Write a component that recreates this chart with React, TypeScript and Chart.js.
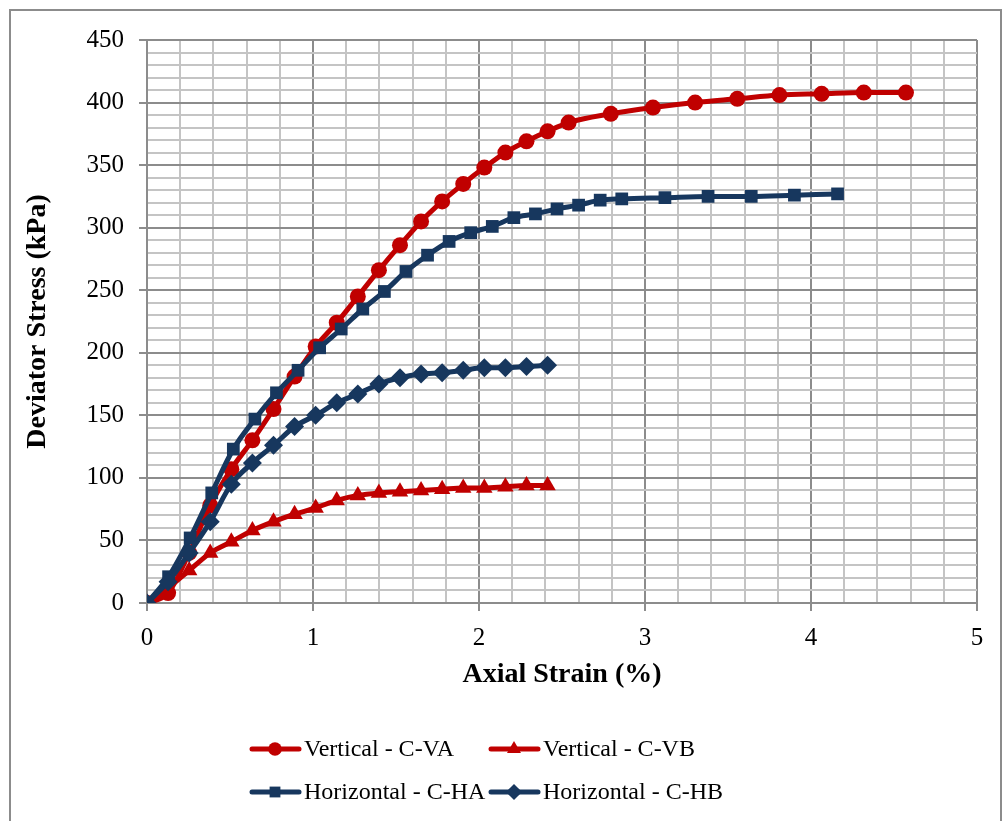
import React, { useEffect, useRef } from 'react';
import { Chart, registerables } from 'chart.js';

Chart.register(...registerables);

const RED = '#C00000';
const BLUE = '#17375E';

const seriesNames = ['Vertical - C-VA', 'Vertical - C-VB', 'Horizontal - C-HA', 'Horizontal - C-HB'];

const vaStrain = [0, 0.127, 0.254, 0.381, 0.508, 0.635, 0.762, 0.889, 1.016, 1.143, 1.27, 1.397, 1.524, 1.651, 1.778, 1.905, 2.032, 2.159, 2.286, 2.413, 2.54, 2.794, 3.048, 3.302, 3.556, 3.81, 4.064, 4.318, 4.572];
const vaStress = [0, 8, 40, 78, 107, 130, 155, 181, 205, 224, 245, 266, 286, 305, 321, 335, 348, 360, 369, 377, 384, 391, 396, 400, 403, 406, 407, 408, 408];

const vbStrain = [0, 0.127, 0.254, 0.381, 0.508, 0.635, 0.762, 0.889, 1.016, 1.143, 1.27, 1.397, 1.524, 1.651, 1.778, 1.905, 2.032, 2.159, 2.286, 2.413];
const vbStress = [0, 12, 26, 40, 49, 58, 65, 71, 76, 82, 86, 88, 89, 90, 91, 92, 92, 93, 94, 94];

const haStrain = [0, 0.13, 0.26, 0.39, 0.52, 0.65, 0.78, 0.91, 1.04, 1.17, 1.3, 1.43, 1.56, 1.69, 1.82, 1.95, 2.08, 2.21, 2.34, 2.47, 2.6, 2.73, 2.86, 3.12, 3.38, 3.64, 3.9, 4.16];
const haStress = [0, 21, 52, 88, 123, 147, 168, 186, 204, 219, 235, 249, 265, 278, 289, 296, 301, 308, 311, 315, 318, 322, 323, 324, 325, 325, 326, 327];

const hbStrain = [0, 0.127, 0.254, 0.381, 0.508, 0.635, 0.762, 0.889, 1.016, 1.143, 1.27, 1.397, 1.524, 1.651, 1.778, 1.905, 2.032, 2.159, 2.286, 2.413];
const hbStress = [0, 17, 40, 65, 95, 112, 126, 141, 150, 160, 167, 175, 180, 183, 184, 186, 188, 188, 189, 190];

const xMajorTicks = [0, 1, 2, 3, 4, 5];
const yMajorTicks = [0, 50, 100, 150, 200, 250, 300, 350, 400, 450];

const FONT = '"Liberation Serif", "Times New Roman", serif';

const toPts = (xs: number[], ys: number[]) => xs.map((x, i) => ({ x, y: ys[i] }));

const isMajorX = (v: number) => xMajorTicks.some((t) => Math.abs(t - v) < 1e-6);
const isMajorY = (v: number) => yMajorTicks.some((t) => Math.abs(t - v) < 1e-6);

function drawMarker(ctx: CanvasRenderingContext2D, style: string, x: number, y: number, r: number) {
  ctx.beginPath();
  if (style === 'circle') {
    ctx.arc(x, y, r, 0, Math.PI * 2);
  } else if (style === 'triangle') {
    ctx.moveTo(x, y - r);
    ctx.lineTo(x + r * 0.866, y + r * 0.5);
    ctx.lineTo(x - r * 0.866, y + r * 0.5);
    ctx.closePath();
  } else if (style === 'rect') {
    const s = r * 0.7071;
    ctx.rect(x - s, y - s, 2 * s, 2 * s);
  } else {
    ctx.moveTo(x, y - r);
    ctx.lineTo(x + r, y);
    ctx.lineTo(x, y + r);
    ctx.lineTo(x - r, y);
    ctx.closePath();
  }
  ctx.fill();
}

const framePlugin = {
  id: 'frame',
  beforeDraw(chart: any) {
    const ctx = chart.ctx as CanvasRenderingContext2D;
    ctx.save();
    ctx.fillStyle = '#FFFFFF';
    ctx.fillRect(0, 0, chart.width, chart.height);
    ctx.strokeStyle = '#8C8C8C';
    ctx.lineWidth = 2;
    ctx.strokeRect(10, 10, 991, 900);
    ctx.restore();
  },
};

const legendPlugin = {
  id: 'gridLegend',
  afterDraw(chart: any) {
    const ctx = chart.ctx as CanvasRenderingContext2D;
    const cols = [250, 489];
    const rows = [749, 792];
    ctx.save();
    chart.data.datasets.forEach((ds: any, i: number) => {
      const x0 = cols[i % 2];
      const y = rows[Math.floor(i / 2)];
      ctx.strokeStyle = ds.borderColor;
      ctx.fillStyle = ds.borderColor;
      ctx.lineWidth = 5;
      ctx.lineCap = 'round';
      ctx.beginPath();
      ctx.moveTo(x0 + 2, y);
      ctx.lineTo(x0 + 49, y);
      ctx.stroke();
      drawMarker(ctx, ds.pointStyle, x0 + 25, y, ds.pointRadius * 0.85);
      ctx.fillStyle = '#000000';
      ctx.font = `24px ${FONT}`;
      ctx.textBaseline = 'middle';
      ctx.textAlign = 'left';
      ctx.fillText(ds.label, x0 + 54, y + 1);
    });
    ctx.restore();
  },
};

export default function App() {
  const canvasRef = useRef<HTMLCanvasElement | null>(null);

  useEffect(() => {
    const canvas = canvasRef.current;
    if (!canvas) return;
    const common = { borderWidth: 5, showLine: true, cubicInterpolationMode: 'monotone' as const };
    const chart = new Chart(canvas, {
      type: 'line',
      data: {
        datasets: [
          { ...common, label: seriesNames[0], data: toPts(vaStrain, vaStress), borderColor: RED, backgroundColor: RED, pointStyle: 'circle', pointRadius: 8, pointBorderWidth: 0, order: 4 },
          { ...common, label: seriesNames[1], data: toPts(vbStrain, vbStress), borderColor: RED, backgroundColor: RED, pointStyle: 'triangle', pointRadius: 9.5, pointBorderWidth: 0, order: 3 },
          { ...common, label: seriesNames[2], data: toPts(haStrain, haStress), borderColor: BLUE, backgroundColor: BLUE, pointStyle: 'rect', pointRadius: 9, pointBorderWidth: 0, order: 2 },
          { ...common, label: seriesNames[3], data: toPts(hbStrain, hbStress), borderColor: BLUE, backgroundColor: BLUE, pointStyle: 'rectRot', pointRadius: 9.5, pointBorderWidth: 0, order: 1 },
        ] as any,
      },
      options: {
        responsive: false,
        animation: false,
        devicePixelRatio: 1,
        layout: { padding: { left: 14, top: 40, right: 26, bottom: 121 } },
        plugins: { legend: { display: false }, tooltip: { enabled: false } },
        scales: {
          x: {
            type: 'linear',
            min: 0,
            max: 5,
            afterFit: (scale: any) => { scale.height = 97; },
            ticks: {
              stepSize: 0.2,
              autoSkip: false,
              maxRotation: 0,
              padding: 12,
              color: '#000000',
              font: { family: FONT, size: 25 },
              callback: (v: any) => (isMajorX(Number(v)) ? String(Math.round(Number(v))) : ''),
            },
            grid: {
              color: (c: any) => (c.tick && isMajorX(c.tick.value) ? '#8C8C8C' : '#C4C4C4'),
              tickColor: (c: any) => (c.tick && isMajorX(c.tick.value) ? '#8C8C8C' : 'rgba(0,0,0,0)'),
              lineWidth: 2,
              tickLength: 8,
            },
            border: { color: '#8C8C8C', width: 2 },
            title: {
              display: true,
              text: 'Axial Strain (%)',
              color: '#000000',
              font: { family: FONT, size: 28, weight: 'bold' },
              padding: { top: 0, bottom: 8 },
            },
          },
          y: {
            type: 'linear',
            min: 0,
            max: 450,
            afterFit: (scale: any) => { scale.width = 133; },
            ticks: {
              stepSize: 10,
              autoSkip: false,
              padding: 15,
              color: '#000000',
              font: { family: FONT, size: 25 },
              callback: (v: any) => (isMajorY(Number(v)) ? String(Math.round(Number(v))) : ''),
            },
            grid: {
              color: (c: any) => (c.tick && isMajorY(c.tick.value) ? '#8C8C8C' : '#C4C4C4'),
              tickColor: (c: any) => (c.tick && isMajorY(c.tick.value) ? '#8C8C8C' : 'rgba(0,0,0,0)'),
              lineWidth: 2,
              tickLength: 8,
            },
            border: { color: '#8C8C8C', width: 2 },
            title: {
              display: true,
              text: 'Deviator Stress (kPa)',
              color: '#000000',
              font: { family: FONT, size: 28, weight: 'bold' },
              padding: { top: 7, bottom: 0 },
            },
          },
        },
      } as any,
      plugins: [framePlugin, legendPlugin],
    });
    return () => chart.destroy();
  }, []);

  return (
    <div style={{ position: 'absolute', left: 0, top: 0, width: 1003, height: 821, background: '#fff' }}>
      <canvas ref={canvasRef} width={1003} height={821} style={{ width: 1003, height: 821, display: 'block' }} />
    </div>
  );
}
